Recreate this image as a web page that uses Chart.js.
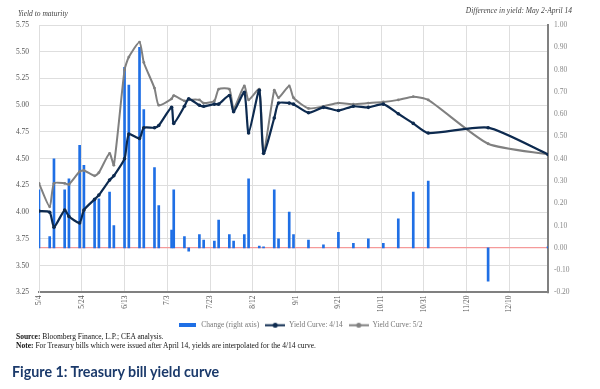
<!DOCTYPE html>
<html>
<head>
<meta charset="utf-8">
<script src="https://cdn.jsdelivr.net/npm/chart.js@4/dist/chart.umd.min.js"></script>
<style>
  body { margin: 0; background: #fff; width: 600px; height: 389px; overflow: hidden; position: relative; }
  #wrap { position: absolute; left: 0; top: 0; width: 600px; height: 339px; }
  .notes { position: absolute; left: 16px; top: 333px; font-family: "Liberation Serif", serif; font-size: 7.5px; color: #111; line-height: 8.6px; }
  .title { position: absolute; left: 12px; top: 363px; font-family: Lato, sans-serif; font-weight: 700; font-size: 14.3px; color: #1b3a6b; }
</style>
</head>
<body>
<div id="wrap"><canvas id="curva"></canvas></div>
<div class="notes">
  <div><b>Source:</b> Bloomberg Finance, L.P.; CEA analysis.</div>
  <div><b>Note:</b> For Treasury bills which were issued after April 14, yields are interpolated for the 4/14 curve.</div>
</div>
<div class="title">Figure 1: Treasury bill yield curve</div>

<script>
// Fechas de vencimiento de los bills (2023)
const maturities = ['5/4','5/9','5/11','5/16','5/18','5/23','5/25','5/30','6/1','6/6','6/8',
  '6/13','6/15','6/20','6/22','6/27','6/29','7/5','7/6','7/11','7/13','7/18','7/20','7/25','7/27',
  '8/1','8/3','8/8','8/10','8/15','8/17','8/22','8/24','8/29','8/31','9/7','9/14','9/21','9/28',
  '10/5','10/12','10/19','10/26','11/2','11/30','12/28'];

// Curva al 4/14
const yieldApr14 = [4.01,4.00,3.86,4.02,3.96,3.90,4.02,4.12,4.16,4.30,4.34,
  4.50,4.73,4.69,4.79,4.79,4.81,4.98,4.83,4.99,5.06,5.00,4.99,5.01,5.01,
  5.09,4.94,5.12,4.74,5.14,4.55,4.88,5.02,5.02,5.01,4.93,4.98,4.95,4.99,
  4.98,5.01,4.92,4.83,4.74,4.79,4.54];

// Curva al 5/2
const yieldMay2 = [4.27,4.05,4.27,4.27,4.26,4.38,4.39,4.34,4.37,4.55,4.44,
  5.33,5.45,5.59,5.40,5.16,5.00,5.06,5.09,5.04,5.05,5.05,5.02,5.04,5.15,
  5.15,4.97,5.18,5.05,5.15,4.55,5.14,5.07,5.18,5.07,4.97,4.99,5.02,5.01,
  5.02,5.03,5.05,5.08,5.05,4.64,4.54];

// Diferencia (eje derecho)
const changeVals = [0.26,0.05,0.40,0.26,0.31,0.46,0.37,0.22,0.22,0.25,0.10,
  0.81,0.73,0.90,0.62,0.36,0.19,0.08,0.26,0.05,-0.015,0.06,0.035,0.03,0.125,
  0.06,0.03,0.06,0.31,0.008,0.005,0.26,0.04,0.16,0.06,0.035,0.013,0.07,0.02,
  0.04,0.02,0.13,0.25,0.30,-0.15,0.005];

const xTickLabels = ['5/4','5/24','6/13','7/3','7/23','8/12','9/1','9/21','10/11','10/31','11/20','12/10'];
const xStart = '5/4';
const xEnd = '12/28';

const seriesNames = ['Change (right axis)', 'Yield Curve: 4/14', 'Yield Curve: 5/2'];
const colors = ['#1f6fe5', '#0d2a4f', '#808080'];

// dias desde el 5/4
function dayOf(md) {
  const [m, d] = md.split('/').map(Number);
  return (Date.UTC(2023, m - 1, d) - Date.UTC(2023, 4, 4)) / 86400000;
}
const toPoints = vals => vals.map((v, i) => ({ x: dayOf(maturities[i]), y: v }));

// iconos para la leyenda
function icon(kind, color) {
  const c = document.createElement('canvas');
  const g = c.getContext('2d');
  if (kind === 'box') {
    c.width = 17; c.height = 4;
    g.fillStyle = color; g.fillRect(0, 0, 17, 4);
  } else {
    c.width = 20; c.height = 7;
    g.strokeStyle = color; g.lineWidth = 2;
    g.beginPath(); g.moveTo(0, 3.5); g.lineTo(20, 3.5); g.stroke();
    g.fillStyle = color; g.beginPath(); g.arc(10, 3.5, 2.5, 0, Math.PI * 2); g.fill();
  }
  return c;
}
const icons = [icon('box', colors[0]), icon('line', colors[1]), icon('line', colors[2])];

const serif = '"Liberation Serif", "Times New Roman", serif';
const fmt2 = v => (Math.abs(v) < 1e-9 ? 0 : v).toFixed(2);

const axisTitles = {
  id: 'axisTitles',
  afterDraw(chart) {
    const ctx = chart.ctx;
    ctx.save();
    ctx.font = 'italic 7.5px ' + serif;
    ctx.fillStyle = '#444';
    ctx.textBaseline = 'middle';
    ctx.textAlign = 'left';
    ctx.fillText('Yield to maturity', 18, 14);
    ctx.textAlign = 'right';
    ctx.fillText('Difference in yield: May 2-April 14', 572, 11);
    ctx.restore();
  }
};

const kData = {
  datasets: [
    {
      type: 'bar',
      label: seriesNames[0],
      data: toPoints(changeVals),
      backgroundColor: colors[0],
      barThickness: 2,
      yAxisID: 'y1',
      order: 3
    }, {
      type: 'line',
      label: seriesNames[1],
      data: toPoints(yieldApr14),
      borderColor: colors[1],
      backgroundColor: colors[1],
      borderWidth: 2.2,
      pointRadius: 1.8,
      pointBorderWidth: 0,
      tension: 0.2,
      yAxisID: 'y',
      order: 1
    }, {
      type: 'line',
      label: seriesNames[2],
      data: toPoints(yieldMay2),
      borderColor: colors[2],
      backgroundColor: colors[2],
      borderWidth: 2,
      pointRadius: 1.4,
      pointBorderWidth: 0,
      tension: 0.2,
      yAxisID: 'y',
      order: 2
    }
  ]
};

new Chart(document.querySelector('#curva'), {
  type: 'bar',
  data: kData,
  plugins: [axisTitles],
  options: {
    responsive: true,
    maintainAspectRatio: false,
    animation: false,
    layout: { padding: { top: 25, left: 0, right: 0, bottom: 0 } },
    plugins: {
      tooltip: { enabled: false },
      legend: {
        position: 'bottom',
        labels: {
          usePointStyle: true,
          pointStyleWidth: 20,
          padding: 6,
          color: '#777',
          font: { family: serif, size: 7.5 },
          generateLabels: chart => chart.data.datasets.map((ds, i) => ({
            text: ds.label,
            pointStyle: icons[i],
            datasetIndex: i,
            hidden: false,
            fontColor: '#777',
            lineWidth: 0
          }))
        }
      }
    },
    scales: {
      x: {
        type: 'linear',
        offset: false,
        min: dayOf(xStart),
        max: dayOf(xEnd),
        grid: { color: '#dedede', drawTicks: false, offset: false },
        border: { color: '#808080', width: 2 },
        ticks: {
          stepSize: 20,
          includeBounds: false,
          autoSkip: false,
          minRotation: 90,
          maxRotation: 90,
          padding: 3,
          color: '#555',
          font: { family: serif, size: 7.5 },
          callback: v => {
            const lab = xTickLabels.find(l => dayOf(l) === v);
            return lab || '';
          }
        }
      },
      y: {
        position: 'left',
        min: 3.25,
        max: 5.75,
        afterFit: s => { s.width = 39; },
        grid: { color: '#dedede', drawTicks: false },
        border: { color: '#dedede', width: 1 },
        ticks: {
          stepSize: 0.25,
          padding: 10,
          color: '#555',
          font: { family: serif, size: 7.5 },
          callback: fmt2
        }
      },
      y1: {
        position: 'right',
        min: -0.2,
        max: 1.0,
        afterFit: s => { s.width = 52; },
        grid: {
          drawTicks: false,
          color: c => Math.abs(c.tick.value) < 1e-9 ? '#f59a9a' : 'rgba(0,0,0,0)',
          lineWidth: 1.2
        },
        border: { color: '#808080', width: 2 },
        ticks: {
          stepSize: 0.1,
          padding: 6,
          color: '#888',
          font: { family: serif, size: 7.5 },
          callback: fmt2
        }
      }
    }
  }
});
</script>
</body>
</html>
